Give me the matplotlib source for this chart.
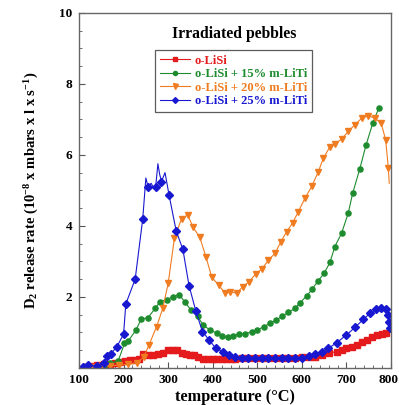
import matplotlib
matplotlib.use("Agg")
import matplotlib.pyplot as plt
import matplotlib.transforms as mtransforms
from matplotlib.ticker import MultipleLocator, FixedLocator

plt.rcParams['font.family'] = ['Liberation Serif', 'DejaVu Serif']
plt.rcParams['font.weight'] = 'bold'
plt.rcParams['mathtext.fontset'] = 'custom'
plt.rcParams['mathtext.rm'] = 'Liberation Serif:bold'
plt.rcParams['mathtext.bf'] = 'Liberation Serif:bold'
plt.rcParams['mathtext.it'] = 'Liberation Serif:bold:italic'
plt.rcParams['mathtext.default'] = 'bf'

labels = ["o-LiSi", "o-LiSi + 15% m-LiTi", "o-LiSi + 20% m-LiTi", "o-LiSi + 25% m-LiTi"]
colors = ["#e41a1c", "#1e8c2e", "#f07c22", "#1818d0"]
x_ticks = [100, 200, 300, 400, 500, 600, 700, 800]
y_ticks = [2, 4, 6, 8, 10]

# o-LiSi
t_red = [100, 113, 125, 140, 155, 170, 180, 192, 203, 214, 225, 235, 244, 255, 267, 278, 289, 300,
         310, 320, 330, 340, 349, 358, 368, 378, 390, 400, 410, 420, 430, 440, 450, 465, 480, 495,
         510, 525, 540, 555, 570, 585, 600, 615, 630, 645, 660, 678, 690, 700, 712, 723, 734, 745,
         757, 768, 779, 789]
y_red = [0.0, 0.04, 0.06, 0.08, 0.10, 0.12, 0.14, 0.16, 0.20, 0.22, 0.22, 0.24, 0.38, 0.37, 0.37,
         0.38, 0.43, 0.50, 0.52, 0.50, 0.43, 0.38, 0.37, 0.37, 0.32, 0.25, 0.24, 0.24, 0.24, 0.24,
         0.24, 0.25, 0.26, 0.27, 0.27, 0.27, 0.28, 0.28, 0.28, 0.28, 0.29, 0.29, 0.30, 0.30, 0.31,
         0.37, 0.42, 0.46, 0.50, 0.55, 0.60, 0.65, 0.72, 0.79, 0.86, 0.93, 0.96, 0.98]

# o-LiSi + 15% m-LiTi
t_green = [100, 120, 140, 155, 170, 188, 202, 211, 228, 239, 255, 271, 282, 297, 310, 325, 338,
           352, 366, 379, 394, 409, 420, 434, 446, 460, 472, 487, 500, 514, 529, 542, 555, 570,
           585, 596, 611, 623, 637, 650, 663, 674, 689, 704, 714, 730, 744, 759, 773]
y_green = [0.0, 0.02, 0.04, 0.06, 0.13, 0.20, 0.69, 0.77, 1.07, 1.37, 1.42, 1.68, 1.87, 1.92, 2.01,
           2.06, 1.85, 1.62, 1.45, 1.20, 1.07, 0.98, 0.91, 0.86, 0.91, 0.96, 0.96, 1.02, 1.07,
           1.16, 1.26, 1.35, 1.45, 1.57, 1.68, 1.84, 2.03, 2.22, 2.46, 2.67, 2.97, 3.42, 3.79,
           4.36, 4.92, 5.61, 6.28, 6.89, 7.33]

# o-LiSi + 20% m-LiTi
t_orange = [100, 115, 130, 150, 170, 190, 210, 230, 245, 257, 274, 288, 300, 314, 330, 344, 356,
            371, 385, 398, 413, 428, 439, 454, 467, 482, 497, 510, 525, 540, 553, 566, 579, 592,
            607, 622, 637, 648, 662, 674, 689, 704, 719, 734, 749, 764, 778, 788, 794, 796]
y_orange = [0.0, 0.02, 0.04, 0.06, 0.06, 0.08, 0.10, 0.15, 0.30, 0.65, 1.16, 1.68, 2.38, 3.65, 4.20,
            4.31, 3.96, 3.68, 3.12, 2.55, 2.34, 2.10, 2.15, 2.10, 2.29, 2.43, 2.66, 2.78, 3.04,
            3.23, 3.56, 3.84, 4.08, 4.40, 4.78, 5.11, 5.53, 5.90, 6.21, 6.31, 6.44, 6.66, 6.85,
            7.03, 7.10, 7.03, 6.89, 6.42, 5.62, 5.20]

# o-LiSi + 25% m-LiTi
t_blue = [100, 110, 120, 140, 157, 163, 171, 185, 200, 205, 226, 243, 250, 255, 262, 268, 272, 277,
          281, 285, 293, 302, 318, 333, 347, 362, 377, 392, 407, 422, 437, 450, 465, 480, 495, 510,
          525, 540, 555, 570, 585, 600, 615, 630, 645, 659, 678, 700, 719, 738, 753, 766, 777, 789,
          794, 796, 797]
y_blue = [0.0, 0.04, 0.07, 0.05, 0.13, 0.34, 0.39, 0.60, 0.95, 1.80, 2.50, 4.20, 5.35, 5.10, 5.20,
          5.05, 5.10, 5.75, 5.45, 5.25, 5.50, 4.87, 3.86, 3.34, 2.31, 1.61, 1.02, 0.79, 0.55, 0.46,
          0.37, 0.30, 0.28, 0.28, 0.28, 0.28, 0.28, 0.28, 0.28, 0.28, 0.29, 0.29, 0.33, 0.39, 0.46,
          0.55, 0.71, 0.93, 1.14, 1.37, 1.54, 1.65, 1.68, 1.65, 1.49, 1.30, 1.12]
blue_spikes = {250, 262, 268, 277, 281, 293}
blue_marks = [i for i, t in enumerate(t_blue) if t not in blue_spikes and t > 100]

fig = plt.figure(figsize=(3.99, 4.05), dpi=100)
ax = fig.add_axes([0.198, 0.0914, 0.782, 0.877])

ms = 3.7
lw = 0.8
ax.plot(t_red, y_red, color=colors[0], lw=lw, marker='s', ms=ms, markevery=list(range(1, len(t_red))), label=labels[0])
ax.plot(t_green, y_green, color=colors[1], lw=lw, marker='o', ms=ms, markevery=list(range(1, len(t_green))), label=labels[1])
ax.plot(t_orange, y_orange, color=colors[2], lw=lw, marker='v', ms=ms + 0.8, markevery=list(range(1, len(t_orange) - 1)), label=labels[2])
ax.plot(t_blue, y_blue, color=colors[3], lw=lw, marker='D', ms=ms, markevery=blue_marks, label=labels[3])

ax.set_xlim(100, 800)
ax.set_ylim(0, 10)
ax.xaxis.set_major_locator(FixedLocator(x_ticks))
ax.xaxis.set_minor_locator(MultipleLocator(20))
ax.yaxis.set_major_locator(FixedLocator(y_ticks))
ax.yaxis.set_minor_locator(MultipleLocator(0.5))
ax.tick_params(which='both', direction='in', top=False, right=False, labelsize=9.5, color='#555555')
ax.tick_params(which='major', length=4, width=0.8)
ax.tick_params(axis='x', pad=4)
ax.tick_params(axis='y', pad=5)
ax.tick_params(which='minor', length=2, width=0.6)
for sp in ax.spines.values():
    sp.set_color('#666666')
    sp.set_linewidth(1.0)

ax.set_xlabel("temperature (°C)", fontsize=11.8, fontweight='bold', labelpad=2.5)
ax.set_ylabel("D$_2$ release rate (10$^{-8}$ x mbars x l x s$^{-1}$)", fontsize=10.5, fontweight='bold', labelpad=13)
ax.text(0.498, 0.941, "Irradiated pebbles", transform=ax.transAxes, ha='center', va='center',
        fontsize=11.3, fontweight='bold')

leg = ax.legend(loc='upper left', bbox_to_anchor=(0.244, 0.896), fontsize=9.0, frameon=True,
                fancybox=False, edgecolor='#333333', handlelength=2.4, handletextpad=0.35,
                borderpad=0.4, labelspacing=0.12, borderaxespad=0, markerscale=0.8)
leg.get_frame().set_linewidth(0.9)
for txt, c in zip(leg.get_texts(), colors):
    txt.set_color(c)
    txt.set_fontweight('bold')

# nudge the last x tick label slightly left so it stays inside the figure
fig.canvas.draw()
for lab in ax.get_xticklabels() + ax.get_yticklabels():
    lab.set_fontweight('bold')
for lab in ax.get_xticklabels():
    if lab.get_text() == str(x_ticks[-1]):
        lab.set_transform(lab.get_transform() + mtransforms.ScaledTranslation(-2.5 / 100, 0, fig.dpi_scale_trans))

fig.savefig("out.png", dpi=100)
